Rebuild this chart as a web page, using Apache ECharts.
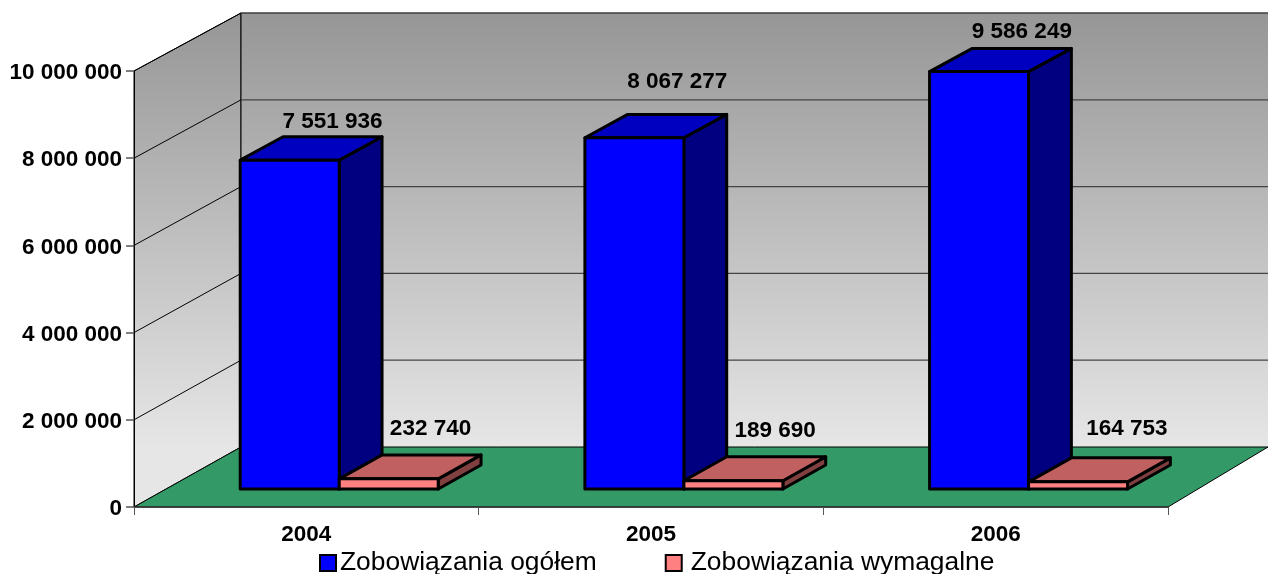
<!DOCTYPE html>
<html><head><meta charset="utf-8">
<style>html,body{margin:0;padding:0;background:#fff}#c{width:1268px;height:574px}</style>
<script src="https://cdn.jsdelivr.net/npm/echarts@6/dist/echarts.min.js"></script>
</head><body><div id="c"></div>
<script>
const categories = ['2004','2005','2006'];
const seriesNames = ['Zobowiązania ogółem','Zobowiązania wymagalne'];
const totalValues = [7551936, 8067277, 9586249];
const dueValues = [232740, 189690, 164753];
const yTicks = [0, 2000000, 4000000, 6000000, 8000000, 10000000];

// Layout of the fake 3D projection
const DEPTH_X = 107, DEPTH_X_RIGHT = 100, DEPTH_Y = 60, SHRINK = 0.0046;
const BAR_W = 99, BAR_NEAR = 0.3, BAR_FAR = 0.7, BAR_SHIFT = 0.8;
const LIFT_TOTAL = [15, 33, 17], LIFT_DUE = [26, 26, 29];
const NUDGE_TOTAL = [0, 0, 0], NUDGE_DUE = [-1, -1, 6];
const FONT = '"Liberation Sans", Arial, sans-serif';
const fmt = v => String(v).replace(/\B(?=(\d{3})+(?!\d))/g, ' ');

// screen y of a front-plane y at depth d (0 = front, 1 = back wall)
const atDepth = (y, yB, d) => yB - (yB - y) * (1 - d * SHRINK) - d * DEPTH_Y;

const wallFill = (top, bottom) => ({type:'linear', global:true, x:0, y:top, x2:0, y2:bottom,
  colorStops:[{offset:0,color:'#969696'},{offset:1,color:'#e6e6e6'}]});

function renderWalls(params, api) {
  const r = params.coordSys, x0 = r.x, x1 = r.x + r.width, yB = r.y + r.height, yT = r.y;
  const bx = x0 + DEPTH_X, rx = x1 + DEPTH_X_RIGHT, by = yB - DEPTH_Y, ty = atDepth(yT, yB, 1);
  const fill = wallFill(ty, by);
  const line = {stroke:'#000', lineWidth:1};
  return {type:'group', children:[
    {type:'polygon', shape:{points:[[x0,yT],[bx,ty],[bx,by],[x0,yB]]}, style:{fill, stroke:'#000', lineWidth:1}},
    {type:'rect', shape:{x:bx,y:ty,width:rx-bx,height:by-ty}, style:{fill}},
    {type:'line', shape:{x1:bx,y1:ty,x2:rx,y2:ty}, style:{stroke:'#333',lineWidth:1.2}},
    {type:'polygon', shape:{points:[[x0,yB],[x1,yB],[rx,by],[bx,by]]}, style:{fill:'#339966', stroke:'#000', lineWidth:1}},
    {type:'line', shape:{x1:bx,y1:ty,x2:bx,y2:by}, style:line}
  ]};
}
function renderGridLine(params, api) {
  const r = params.coordSys, v = api.value(0), y = api.coord([0, v])[1];
  if (v === 0) return null;
  const bx = r.x + DEPTH_X, rx = r.x + r.width + DEPTH_X_RIGHT, by = atDepth(y, r.y + r.height, 1);
  return {type:'group', children:[
    {type:'line', shape:{x1:r.x,y1:y,x2:bx,y2:by}, style:{stroke:'#000',lineWidth:1}},
    {type:'line', shape:{x1:bx,y1:by,x2:rx,y2:by}, style:{stroke:'#444',lineWidth:1.2}}
  ]};
}
function renderBar(side, colors, lifts, nudges) {
  return function (params, api) {
    const i = api.value(0), v = api.value(1);
    const c = api.coord([i, v]), b = api.coord([i, 0]);
    const nx = DEPTH_X * BAR_NEAR, fx = DEPTH_X * (BAR_FAR - BAR_NEAR);
    const l = c[0] + side * BAR_W + nx + BAR_SHIFT, rgt = l + BAR_W;
    const t = atDepth(c[1], b[1], BAR_NEAR), bot = atDepth(b[1], b[1], BAR_NEAR);
    const t2 = atDepth(c[1], b[1], BAR_FAR), bot2 = atDepth(b[1], b[1], BAR_FAR);
    const st = fill => ({fill, stroke:'#000', lineWidth:3, lineJoin:'round'});
    return {type:'group', children:[
      {type:'polygon', shape:{points:[[rgt,t],[rgt+fx,t2],[rgt+fx,bot2],[rgt,bot]]}, style:st(colors.side)},
      {type:'polygon', shape:{points:[[l,t],[l+fx,t2],[rgt+fx,t2],[rgt,t]]}, style:st(colors.top)},
      {type:'rect', shape:{x:l,y:t,width:BAR_W,height:bot-t}, style:st(colors.front)},
      {type:'text', style:{text:fmt(v), x:(l+rgt)/2+fx+nudges[i], y:t2-lifts[i], align:'center', verticalAlign:'middle',
        font:'bold 22.5px '+FONT, fill:'#000'}}
    ]};
  };
}
const blue = {front:'#0000ff', top:'#0000c0', side:'#000080'};
const pink = {front:'#ff8080', top:'#c06060', side:'#804040'};

const chart = echarts.init(document.getElementById('c'), null, {renderer:'canvas'});
chart.setOption({
  animation:false,
  backgroundColor:'#fff',
  grid:{left:134, right:100, top:71, bottom:67, containLabel:false},
  xAxis:{type:'category', data:categories, z:3,
    axisLine:{lineStyle:{color:'#333',width:1.5}},
    axisTick:{show:true,alignWithLabel:false,length:8,inside:false,lineStyle:{color:'#555',width:1}},
    axisLabel:{color:'#000',fontFamily:FONT,fontWeight:'bold',fontSize:22.5,margin:16},
    splitLine:{show:false}},
  yAxis:{type:'value', min:0, max:10000000, interval:2000000, z:3,
    axisLine:{show:true,lineStyle:{color:'#000',width:1}},
    axisTick:{show:true,length:8,lineStyle:{color:'#555',width:1.5}},
    axisLabel:{color:'#000',margin:12,formatter:v=>'{t|'+fmt(v)+'}',
      rich:{t:{color:'#000',fontFamily:FONT,fontWeight:'bold',fontSize:22.5,padding:[4,0,0,0]}}},
    splitLine:{show:false}},
  legend:{left:319, top:550, padding:0, itemGap:68, itemWidth:16, itemHeight:16, icon:'rect', selectedMode:false,
    textStyle:{fontFamily:FONT,fontSize:26.4,color:'#000'},
    data:[
      {name:seriesNames[0], itemStyle:{color:blue.front,borderColor:'#000',borderWidth:2}, textStyle:{padding:[0,0,0,-1]}},
      {name:seriesNames[1], itemStyle:{color:pink.front,borderColor:'#000',borderWidth:2}, textStyle:{padding:[0,0,0,4]}}
    ]},
  series:[
    {type:'custom', name:'walls', silent:true, z:1, data:[[0]], renderItem:renderWalls, encode:{x:[],y:[]}},
    {type:'custom', name:'grid', silent:true, z:1, data:yTicks.map(v=>[v]), renderItem:renderGridLine, encode:{x:[],y:[]}},
    {type:'custom', name:seriesNames[0], silent:true, z:4, clip:false, itemStyle:{color:blue.front},
      data:totalValues.map((v,i)=>[i,v]), renderItem:renderBar(-1,blue,LIFT_TOTAL,NUDGE_TOTAL), encode:{x:0,y:1}},
    {type:'custom', name:seriesNames[1], silent:true, z:5, clip:false, itemStyle:{color:pink.front},
      data:dueValues.map((v,i)=>[i,v]), renderItem:renderBar(0,pink,LIFT_DUE,NUDGE_DUE), encode:{x:0,y:1}}
  ]
});
</script></body></html>
